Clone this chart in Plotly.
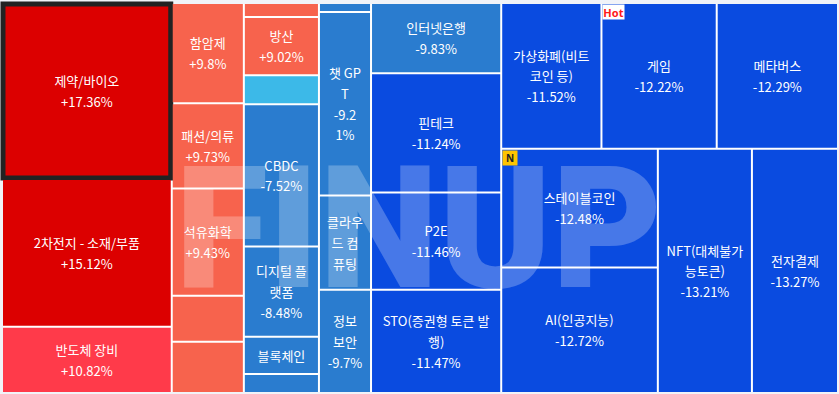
import plotly.graph_objects as go

# ---- hierarchy groups (layout containers) ----
group_ids = ["root", "c1", "c2", "c3", "c4", "c5", "R", "Rt", "Rb", "Ra"]
group_parents = ["", "root", "root", "root", "root", "root", "root", "R", "R", "Rb"]

# ---- leaves ----
leaf_labels = [
    "제약/바이오", "2차전지 - 소재/부품", "반도체 장비",
    "함암제", "패션/의류", "석유화학", "", "",
    "", "방산", "", "CBDC", "디지털 플<br>랫폼", "블록체인", "",
    "", "챗 GP<br>T", "클라우<br>드 컴<br>퓨팅", "정보<br>보안",
    "인터넷은행", "핀테크", "P2E", "STO(증권형 토큰 발<br>행)",
    "가상화폐(비트<br>코인 등)", "게임", "메타버스",
    "스테이블코인", "AI(인공지능)", "NFT(대체불가<br>능토큰)", "전자결제",
]
leaf_changes = [
    17.36, 15.12, 10.82,
    9.8, 9.73, 9.43, None, None,
    None, 9.02, None, -7.52, -8.48, None, None,
    None, -9.21, None, -9.7,
    -9.83, -11.24, -11.46, -11.47,
    -11.52, -12.22, -12.29,
    -12.48, -12.72, -13.21, -13.27,
]
leaf_sizes = [
    29747, 25001, 11187,
    7200, 6120, 7704, 3312, 3672,
    1050, 4350, 2175, 10650, 6750, 2775, 1425,
    468, 9516, 4888, 5356,
    9100, 15470, 12610, 13390,
    14550, 16732, 17605,
    18545, 19562, 22889, 20941,
]
leaf_groups = (["c1"] * 3 + ["c2"] * 5 + ["c3"] * 7 + ["c4"] * 4 + ["c5"] * 4
               + ["Rt"] * 3 + ["Ra"] * 2 + ["Rb"] * 2)

RED, RED2, ORG, LBL, MBL, DBL = "#DC0000", "#FF3A4A", "#F7634D", "#3CB9E8", "#2A7CCF", "#0A4BE0"
leaf_colors = (
    [RED, RED, RED2]
    + [ORG] * 5
    + [ORG, ORG, LBL, MBL, MBL, MBL, MBL]
    + [MBL] * 4
    + [MBL, DBL, DBL, DBL]
    + [DBL] * 3
    + [DBL] * 4
)
change_wrap = {"챗 GP<br>T": "-9.2<br>1%"}
selected = "제약/바이오"


def fmt(v):
    return f"{v:+g}%"


def span(s):
    return "<br>".join(f"<span style='font-size:13px'>{p}</span>" for p in s.split("<br>"))


ids, labels, parents, values, colors, texts, lw, lc = [], [], [], [], [], [], [], []
for g, p in zip(group_ids, group_parents):
    ids.append(g); labels.append(g); parents.append(p); values.append(0)
    colors.append("#FFFFFF"); texts.append(""); lw.append(0); lc.append("#FFFFFF")
for i, (lab, ch, sz, grp, col) in enumerate(zip(leaf_labels, leaf_changes, leaf_sizes, leaf_groups, leaf_colors)):
    ids.append(f"L{i}"); labels.append(lab.replace("<br>", "") or f"L{i}")
    parents.append(grp); values.append(sz); colors.append(col)
    t = lab
    if ch is not None:
        t = (lab + "<br>" if lab else "") + change_wrap.get(lab, fmt(ch))
    texts.append(span(t) if t else "")
    if lab == selected:
        lw.append(5); lc.append("#222222")
    else:
        lw.append(0); lc.append(col)

fig = go.Figure(go.Treemap(
    ids=ids, labels=labels, parents=parents, values=values, branchvalues="remainder",
    text=texts, textinfo="text", textposition="middle center",
    textfont=dict(size=16, color="white", family="Noto Sans CJK KR"),
    marker=dict(colors=colors, line=dict(width=lw, color=lc), pad=dict(t=0, l=0, r=0, b=0)),
    tiling=dict(packing="slice-dice", pad=2),
    sort=False, pathbar=dict(visible=False), hoverinfo="skip",
))

# badge positions derived from the data
total = sum(leaf_sizes)
left_sum = sum(s for s, g in zip(leaf_sizes, leaf_groups) if g in ("c1", "c2", "c3", "c4", "c5"))
right_sum = total - left_sum
top_sum = sum(s for s, g in zip(leaf_sizes, leaf_groups) if g == "Rt")
x_right = left_sum / total
x_game = x_right + leaf_sizes[leaf_labels.index("가상화폐(비트<br>코인 등)")] / top_sum * right_sum / total
y_bottom = 1 - top_sum / right_sum
px_x = 1 / 834
px_y = 1 / 388

fig.add_annotation(text="FINUP", xref="paper", yref="paper", x=0.498, y=0.42,
                   showarrow=False, font=dict(size=170, family="Roboto", weight=900,
                                              color="rgba(255,255,255,0.25)"))
fig.add_annotation(text="<b>Hot</b>", xref="paper", yref="paper", x=x_game + px_x, y=1,
                   xanchor="left", yanchor="top", showarrow=False, bgcolor="white",
                   borderpad=0, width=21, height=14,
                   font=dict(size=11, color="#FF1A1A", family="Noto Sans"))
fig.add_annotation(text="<b>N</b>", xref="paper", yref="paper", x=x_right + px_x, y=y_bottom - px_y,
                   xanchor="left", yanchor="top", showarrow=False, bgcolor="#FFC400",
                   borderpad=0, width=14, height=14,
                   font=dict(size=10, color="#222222", family="Noto Sans"))

fig.update_layout(width=839, height=394, margin=dict(l=3, r=2, t=4, b=2),
                  paper_bgcolor="#F1F3F8", font=dict(family="Noto Sans CJK KR"))
fig.write_html("out.html", config={"displayModeBar": False},
               post_script="document.body.style.margin='0';document.body.style.background='#F1F3F8';")
